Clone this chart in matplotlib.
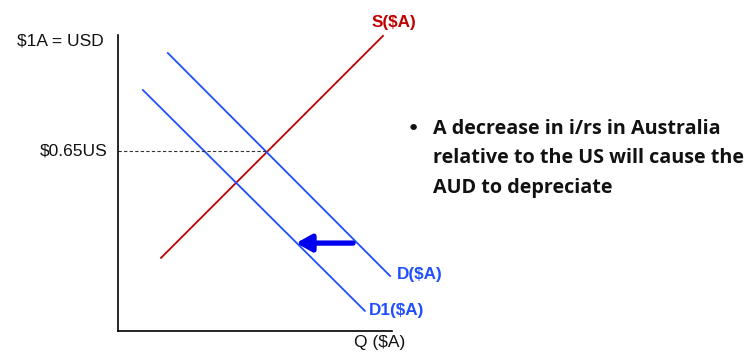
import matplotlib
matplotlib.use("Agg")
import matplotlib.pyplot as plt

# Supply / demand for AUD, in arbitrary quantity (Q) and price (P) units
supply_q = [1.57, 9.67]
supply_p = [2.47, 9.97]
demand_q = [1.82, 9.93]
demand_p = [9.39, 1.86]
demand1_q = [0.91, 9.01]
demand1_p = [8.14, 0.68]

eq_price = 6.08      # $0.65US
eq_q = 5.40
shift_from = (8.58, 2.97)
shift_to = (6.50, 2.97)

bullet_lines = ["A decrease in i/rs in Australia",
                "relative to the US will cause the",
                "AUD to depreciate"]

RED = "#c00000"
BLUE = "#1f4fff"

W, H = 755, 352
fig = plt.figure(figsize=(W / 100, H / 100), dpi=100)
ax = fig.add_axes([118 / W, (H - 331) / H, 274 / W, 296 / H])
ax.set_xlim(0, 10)
ax.set_ylim(0, 10)
for s in ("top", "right"):
    ax.spines[s].set_visible(False)
ax.spines["left"].set_linewidth(1.2)
ax.spines["bottom"].set_linewidth(1.2)
ax.set_xticks([])
ax.set_yticks([])
ax.patch.set_alpha(0)

ax.plot(supply_q, supply_p, color=RED, lw=1.3, clip_on=False)
ax.plot(demand_q, demand_p, color=BLUE, lw=1.3, clip_on=False)
ax.plot(demand1_q, demand1_p, color=BLUE, lw=1.3, clip_on=False)
ax.plot([0, eq_q], [eq_price, eq_price], color="#333333", lw=0.8,
        ls=(0, (3, 2)))

ax.annotate("", xy=shift_to, xytext=shift_from,
            arrowprops=dict(arrowstyle="-|>,head_length=0.9,head_width=0.5",
                            color="#0000ee", lw=3.8, shrinkA=0, shrinkB=0))

lab = dict(family="Liberation Sans", fontsize=12.5, color="#111111")
fig.text(17 / W, 1 - 41 / H, "$1A = USD", ha="left", va="center", **lab)
fig.text(108 / W, 1 - 151 / H, "$0.65US", ha="right", va="center", **lab)
fig.text(380 / W, 1 - 343 / H, "Q ($A)", ha="center", va="center", **lab)

bold = dict(family="Liberation Sans", fontsize=12.3, fontweight="bold")
fig.text(394 / W, 1 - 22 / H, "S($A)", ha="center", va="center",
         color=RED, **bold)
fig.text(420 / W, 1 - 275 / H, "D($A)", ha="center", va="center",
         color=BLUE, **bold)
fig.text(397 / W, 1 - 311 / H, "D1($A)", ha="center", va="center",
         color=BLUE, **bold)

fig.text(413 / W, 1 - 129 / H, "\u2022", ha="center", va="center",
         fontsize=16, family="DejaVu Sans", color="#111111")
for i, line in enumerate(bullet_lines):
    fig.text(433 / W, 1 - (129 + i * 29.5) / H, line, ha="left",
             va="center", fontsize=14.2, family="Open Sans",
             fontweight="bold", color="#111111")

fig.savefig("out.png", dpi=100)
